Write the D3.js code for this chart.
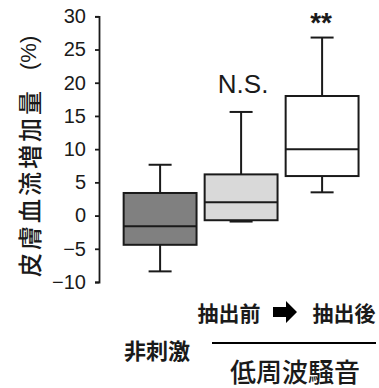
<!DOCTYPE html>
<html><head><meta charset="utf-8">
<script src="https://cdn.jsdelivr.net/npm/d3@7/dist/d3.min.js"></script>
<style>
html,body{margin:0;padding:0;background:#fff;}
svg{display:block;}
</style></head>
<body>
<svg id="chart" width="379" height="388"></svg>
<script>
// ---- data ----
const categories = ["非刺激", "抽出前", "抽出後"];
const whiskerLow  = [-8.4, -0.9, 3.5];
const q1          = [-4.4, -0.7, 5.95];
const medians     = [-1.6, 2.0, 10.0];
const q3          = [3.4, 6.2, 18.0];
const whiskerHigh = [7.65, 15.6, 26.8];
const fills       = ["#808080", "#d9d9d9", "#ffffff"];
const annotations = ["", "N.S.", "**"];
const yTicks      = [-10, -5, 0, 5, 10, 15, 20, 25, 30];
const yLabelMain  = "皮膚血流増加量";
const yLabelUnit  = "(%)";
const groupLabel  = "低周波騒音";

const svg = d3.select("#chart");
const ink = "#1a1a1a";
const latin = "'Liberation Sans', Arial, sans-serif";
const cjk = "'Noto Sans CJK JP', sans-serif";

const y = d3.scaleLinear().domain([-10, 30]).range([282, 16.3]);
const x = d3.scaleBand().domain(categories).range([119.6, 362.6])
  .paddingInner(0.1).paddingOuter(0.05);

// axis
const axis = svg.append("g").attr("transform", "translate(99,0)")
  .call(d3.axisLeft(y).tickValues(yTicks).tickSize(4).tickPadding(9));
axis.selectAll("path,line").attr("stroke", ink).attr("stroke-width", 1.8);
axis.selectAll("text").attr("fill", ink)
  .style("font-family", latin)
  .style("font-size", "20px");

// y label
const yl = svg.append("text")
  .attr("transform", "translate(28,277) rotate(-90)")
  .attr("text-anchor", "start")
  .attr("dominant-baseline", "central")
  .attr("fill", ink);
yl.append("tspan")
  .style("font-family", cjk).style("font-size", "24px").style("font-weight", "500")
  .style("letter-spacing", "3px")
  .text(yLabelMain);
yl.append("tspan").attr("dx", 18)
  .style("font-family", latin).style("font-size", "22px")
  .text(yLabelUnit);

// boxes
const bw = x.bandwidth();
const cap = 23;
const g = svg.append("g");
categories.forEach((c, i) => {
  const cx = x(c) + bw / 2;
  const line = (x1, y1, x2, y2) => g.append("line")
    .attr("x1", x1).attr("y1", y1).attr("x2", x2).attr("y2", y2)
    .attr("stroke", ink).attr("stroke-width", 2);
  line(cx, y(q3[i]), cx, y(whiskerHigh[i]));
  line(cx, y(q1[i]), cx, y(whiskerLow[i]));
  line(cx - cap / 2, y(whiskerHigh[i]), cx + cap / 2, y(whiskerHigh[i]));
  line(cx - cap / 2, y(whiskerLow[i]), cx + cap / 2, y(whiskerLow[i]));
  g.append("rect")
    .attr("x", x(c)).attr("y", y(q3[i]))
    .attr("width", bw).attr("height", y(q1[i]) - y(q3[i]))
    .attr("fill", fills[i]).attr("stroke", ink).attr("stroke-width", 2);
  line(x(c), y(medians[i]), x(c) + bw, y(medians[i]));
  if (annotations[i]) {
    const isStar = annotations[i] === "**";
    g.append("text")
      .attr("x", cx + (isStar ? -1 : 2))
      .attr("y", isStar ? y(whiskerHigh[i]) - 6 : y(whiskerHigh[i]) - 19)
      .attr("text-anchor", "middle")
      .attr("fill", ink)
      .style("font-family", latin)
      .style("font-size", isStar ? "28px" : "26px")
      .style("font-weight", isStar ? "bold" : "normal")
      .text(annotations[i]);
  }
});

// bottom labels
const label = (txt, lx, ly, size, weight) => svg.append("text")
  .attr("x", lx).attr("y", ly)
  .attr("text-anchor", "middle").attr("dominant-baseline", "central")
  .attr("fill", ink).style("font-family", cjk)
  .style("font-size", size + "px").style("font-weight", weight)
  .text(txt);
label(categories[1], 229, 312, 21, "bold");
label(categories[2], 344, 312, 21, "bold");
label(categories[0], 157, 349, 22, "bold");

// arrow
svg.append("path")
  .attr("d", "M273,307 L286,307 L286,301 L297,312 L286,323 L286,317 L273,317 Z")
  .attr("fill", "#000");

// group line and label
svg.append("line").attr("x1", 212).attr("x2", 376).attr("y1", 343).attr("y2", 343)
  .attr("stroke", "#000").attr("stroke-width", 2.2);
label(groupLabel, 295, 370, 26, "500");
</script>
</body></html>
